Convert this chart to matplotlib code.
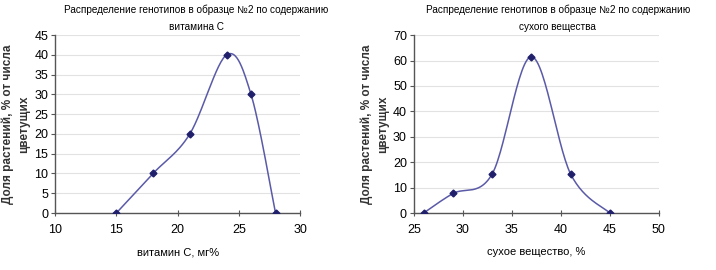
import numpy as np
import matplotlib
matplotlib.use('Agg')
import matplotlib.pyplot as plt

plt.rcParams['font.family'] = ['Liberation Sans Narrow', 'Liberation Sans', 'DejaVu Sans']

# Данные: витамин C
vit_x = [15, 18, 21, 24, 26, 28]
vit_y = [0, 10, 20, 40, 30, 0]

# Данные: сухое вещество
dry_x = [26, 29, 33, 37, 41, 45]
dry_y = [0, 7.7, 15.4, 61.5, 15.4, 0]


# Сглаживание как в Excel (кривая Безье через точки)
def smooth(x, y, n=30):
    p = np.column_stack([x, y]).astype(float)
    pts = [p[0]]
    for i in range(len(p) - 1):
        p0 = p[i - 1] if i > 0 else p[i]
        p1, p2 = p[i], p[i + 1]
        p3 = p[i + 2] if i + 2 < len(p) else p[i + 1]
        c1 = p1 + (p2 - p0) / 6
        c2 = p2 - (p3 - p1) / 6
        t = np.linspace(0, 1, n)[1:, None]
        seg = ((1 - t) ** 3) * p1 + 3 * ((1 - t) ** 2) * t * c1 + 3 * (1 - t) * t ** 2 * c2 + t ** 3 * p2
        pts.extend(seg)
    pts = np.array(pts)
    return pts[:, 0], pts[:, 1]


def draw(ax, x, y, title, title_x, xlabel, xlim, xticks, ylim, yticks):
    sx, sy = smooth(x, y)
    ax.plot(sx, sy, color='#5a5aa8', lw=1.1, zorder=3)
    ax.plot(x, y, 'D', color='#1f1f6b', ms=3.5, zorder=4)
    ax.set_xlim(xlim)
    ax.set_ylim(ylim)
    ax.set_xticks(xticks)
    ax.set_yticks(yticks)
    ax.yaxis.grid(True, color='#e2e2e2', lw=0.8)
    ax.set_axisbelow(True)
    for s in ['top', 'right']:
        ax.spines[s].set_visible(False)
    for s in ['left', 'bottom']:
        ax.spines[s].set_color('#555555')
        ax.spines[s].set_linewidth(1.0)
    ax.tick_params(axis='x', direction='inout', length=4, color='#555555', labelsize=9, pad=6)
    ax.tick_params(axis='y', direction='out', length=3, color='#555555', labelsize=9, pad=2)
    ax.set_title(title, fontsize=7.2, linespacing=1.8, pad=4, x=title_x)
    ax.set_xlabel(xlabel, fontsize=8, labelpad=8)
    ax.set_ylabel('Доля растений, % от числа\nцветущих', fontsize=8.5, fontweight='semibold',
                  linespacing=1.4, labelpad=3, color='#333333')


fig = plt.figure(figsize=(7.16, 2.70), dpi=100)
ax1 = fig.add_axes([0.077, 0.211, 0.342, 0.659])
ax2 = fig.add_axes([0.578, 0.211, 0.342, 0.659])

draw(ax1, vit_x, vit_y, 'Распределение генотипов в образце №2 по содержанию\nвитамина С', 0.576,
     'витамин С, мг%', (10, 30), [10, 15, 20, 25, 30], (0, 45), range(0, 50, 5))
draw(ax2, dry_x, dry_y, 'Распределение генотипов в образце №2 по содержанию\nсухого вещества', 0.588,
     'сухое вещество, %', (25, 50), [25, 30, 35, 40, 45, 50], (0, 70), range(0, 80, 10))

plt.savefig('out.png', dpi=100)
